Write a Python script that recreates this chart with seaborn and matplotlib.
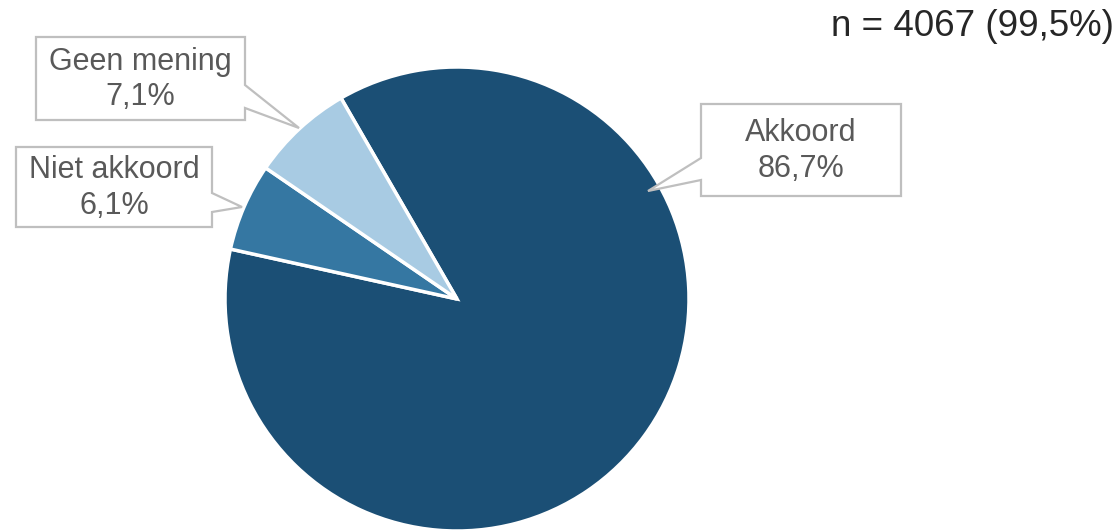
import seaborn as sns
import matplotlib.pyplot as plt
from matplotlib.patches import Polygon

# data
categories = ['Akkoord', 'Niet akkoord', 'Geen mening']
percentages = [86.7, 6.1, 7.1]
label_texts = ['86,7%', '6,1%', '7,1%']
n_text = 'n = 4067 (99,5%)'
colors = ['#1b4f75', '#3577a2', '#a8cbe3']

sns.set_theme(style='white')
plt.rcParams['font.family'] = ['Liberation Sans', 'DejaVu Sans']

W, H = 1120, 530
fig = plt.figure(figsize=(W / 100, H / 100), dpi=100)
ax = fig.add_axes([0, 0, 1, 1])

#pie, center and radius in pixels (y measured from top)
cx, cy, r = 457, 299, 232
ax.pie(percentages, colors=colors, startangle=120, counterclock=False,
       center=(cx, H - cy), radius=r,
       wedgeprops=dict(edgecolor='white', linewidth=2.5))
ax.set_xlim(0, W)
ax.set_ylim(0, H)
ax.set_aspect('equal')
ax.axis('off')

#callout boxes: (left, top, right, bottom), side of pointer, base y1, y2, tip
callouts = {
    'Akkoord': ((701, 104, 901, 196), 'left', 158, 180, (648, 191)),
    'Niet akkoord': ((16, 147, 212, 227), 'right', 193, 212, (242, 207)),
    'Geen mening': ((36, 37, 245, 120), 'right', 85, 108, (299, 128)),
}

for cat, txt in zip(categories, label_texts):
    (L, T, R, B), side, b1, b2, tip = callouts[cat]
    if side == 'right':
        pts = [(L, T), (R, T), (R, b1), tip, (R, b2), (R, B), (L, B)]
    else:
        pts = [(L, T), (R, T), (R, B), (L, B), (L, b2), tip, (L, b1)]
    pts = [(x, H - y) for x, y in pts]
    ax.add_patch(Polygon(pts, closed=True, facecolor='white',
                         edgecolor='#bfbfbf', linewidth=1.6, zorder=3))
    ax.text((L + R) / 2, H - (T + B) / 2 - 1, cat + '\n' + txt, ha='center',
            va='center', fontsize=22, color='#595959', zorder=4,
            linespacing=1.22)

ax.text(1114, H - 26, n_text, ha='right', va='center', fontsize=26.5,
        color='#262626')

plt.savefig('out.png', dpi=100)
